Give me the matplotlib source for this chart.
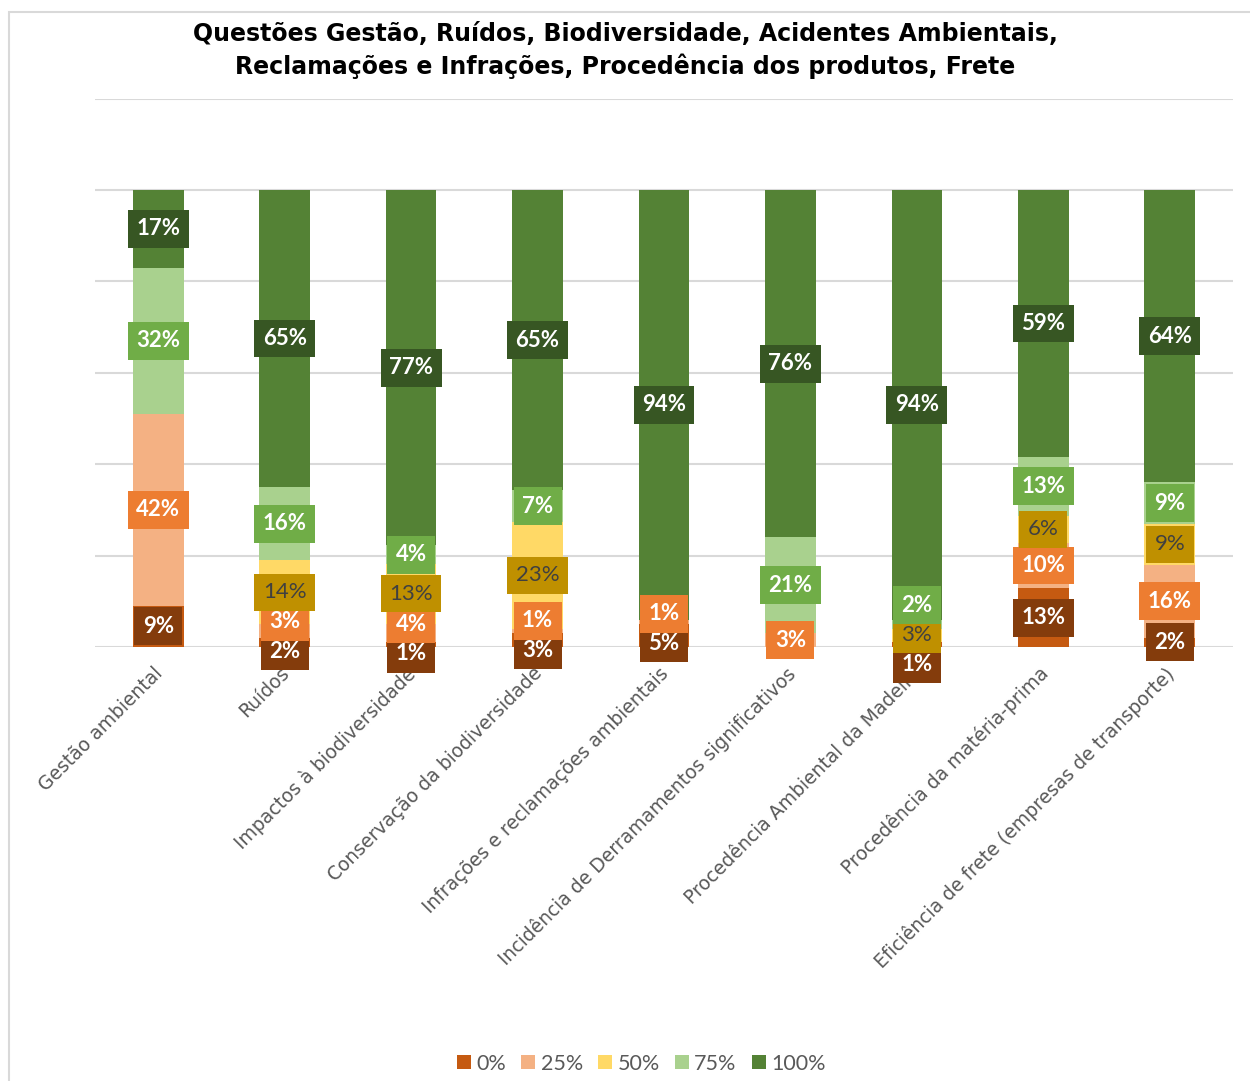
import matplotlib
matplotlib.use("Agg")
import matplotlib.pyplot as plt
import matplotlib.transforms as mtransforms
import numpy as np

# categories and series (share of answers per score level)
categorias = ["Gestão ambiental", "Ruídos", "Impactos à biodiversidade",
              "Conservação da biodiversidade", "Infrações e reclamações ambientais",
              "Incidência de Derramamentos significativos",
              "Procedência Ambiental da Madeira", "Procedência da matéria-prima",
              "Eficiência de frete (empresas de transporte)"]
series = ["0%", "25%", "50%", "75%", "100%"]
v0 = [9, 2, 1, 3, 5, 0, 1, 13, 2]
v25 = [42, 3, 4, 1, 1, 3, 0, 10, 16]
v50 = [0, 14, 13, 23, 0, 0, 3, 6, 9]
v75 = [32, 16, 4, 7, 0, 21, 2, 13, 9]
v100 = [17, 65, 77, 65, 94, 76, 94, 59, 64]
valores = [v0, v25, v50, v75, v100]

cores = ["#C55A11", "#F4B183", "#FFD966", "#A9D18E", "#548235"]
cores_rotulo = ["#843C0C", "#ED7D31", "#BF9000", "#70AD47", "#375623"]
texto_rotulo = ["white", "white", "#404040", "white", "white"]
peso_rotulo = ["bold", "bold", "normal", "bold", "bold"]


def espalhar(centros, gap):
    # push overlapping labels apart around the cluster mean
    grupos = []
    for c in centros:
        grupos.append([c])
        while len(grupos) > 1:
            a, b = grupos[-2], grupos[-1]
            topo_a = np.mean(a) + (len(a) - 1) * gap / 2
            base_b = np.mean(b) - (len(b) - 1) * gap / 2
            if base_b - topo_a < gap:
                grupos[-2:] = [a + b]
            else:
                break
    pos = []
    for g in grupos:
        m = np.mean(g)
        for i in range(len(g)):
            pos.append(m - (len(g) - 1) * gap / 2 + i * gap)
    return pos


fig = plt.figure(figsize=(12.5, 10.81), dpi=100)
ax = fig.add_axes([0.076, 0.4015, 0.9104, 0.5073])

x = np.arange(len(categorias))
totais = np.sum(np.array(valores, dtype=float), axis=0)  # 100% stacked
base = np.zeros(len(categorias))
for k, vals in enumerate(valores):
    frac = np.array(vals) / totais
    ax.bar(x, frac, 0.4, bottom=base, color=cores[k], zorder=2, label=series[k])
    base = base + frac

# data labels
for i in range(len(categorias)):
    acum = 0.0
    itens = []
    for k in range(len(series)):
        f = valores[k][i] / totais[i]
        if valores[k][i] > 0:
            itens.append((k, acum + f / 2))
        acum += f
    ys = espalhar([c for _, c in itens], 0.065)
    for (k, _), y in zip(itens, ys):
        ax.text(x[i], y, "%d%%" % valores[k][i], ha="center", va="center",
                fontsize=16, family="Lato", weight=peso_rotulo[k],
                color=texto_rotulo[k], zorder=5 + k, clip_on=False,
                bbox=dict(boxstyle="square,pad=0.38", fc=cores_rotulo[k], ec="none"))

ax.set_ylim(0, 1.2)
ax.set_xlim(-0.5, len(categorias) - 0.5)
ax.set_yticks(np.arange(0, 1.21, 0.2))
ax.yaxis.grid(True, color="#D9D9D9", lw=1.5, zorder=0)
ax.tick_params(axis="y", left=False, labelleft=False)
ax.tick_params(axis="x", length=0, pad=12)
for s in ax.spines.values():
    s.set_visible(False)

ax.set_xticks(x)
ax.set_xticklabels(categorias, rotation=45, ha="right", va="top",
                   rotation_mode="anchor", fontsize=13.5, color="#595959",
                   family="DejaVu Sans")
desloc = mtransforms.ScaledTranslation(-5 / 100, 0, fig.dpi_scale_trans)
for lbl in ax.get_xticklabels():
    lbl.set_transform(lbl.get_transform() + desloc)

fig.text(0.5, 0.953, "Questões Gestão, Ruídos, Biodiversidade, Acidentes Ambientais,\n"
         "Reclamações e Infrações, Procedência dos produtos, Frete",
         ha="center", va="center", fontsize=17, weight="bold", family="DejaVu Sans",
         linespacing=1.35)

leg = fig.legend(loc="center", bbox_to_anchor=(0.513, 0.016), ncol=5, frameon=False,
                 prop={"family": "Lato", "size": 15.5}, handlelength=0.65,
                 handleheight=0.65, handletextpad=0.25, columnspacing=0.7)
for t in leg.get_texts():
    t.set_color("#595959")

# chart area border
fig.patches.append(plt.Rectangle((0.0075, -0.01), 1.2, 0.9985, transform=fig.transFigure,
                                 fill=False, ec="#D9D9D9", lw=1.5))

fig.savefig("out.png", dpi=100)
